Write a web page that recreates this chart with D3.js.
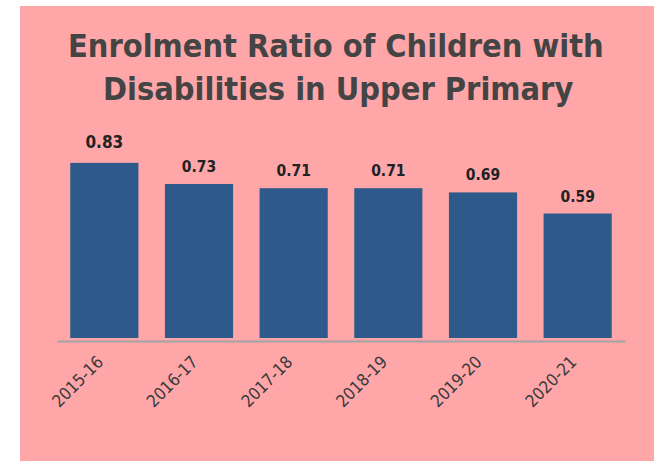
<!DOCTYPE html>
<html>
<head>
<meta charset="utf-8">
<script src="https://cdn.jsdelivr.net/npm/d3@7"></script>
<style>
html,body{margin:0;padding:0;background:#fff;}
svg{display:block;}
</style>
</head>
<body>
<svg id="chart" width="668" height="461"></svg>
<script>
const categories = ["2015-16","2016-17","2017-18","2018-19","2019-20","2020-21"];
const values = [0.83,0.73,0.71,0.71,0.69,0.59];
const valueLabels = ["0.83","0.73","0.71","0.71","0.69","0.59"];
const titleLines = ["Enrolment Ratio of Children with","Disabilities in Upper Primary"];

const svg = d3.select("#chart");
const FONT = "'DejaVu Sans Condensed','DejaVu Sans',sans-serif";

svg.append("rect").attr("x",20).attr("y",6).attr("width",634).attr("height",455).attr("fill","#FFA6A9");

const x = d3.scaleBand().domain(categories).range([57,625]).paddingInner(0.28).paddingOuter(0.14);
const y = d3.scaleLinear().domain([0,1]).range([338,127]);

// title
const t1 = svg.append("text").attr("x",68).attr("y",57).text(titleLines[0])
  .attr("font-family",FONT).attr("font-weight","bold").attr("font-size",30).attr("fill","#444444");
let w = t1.node().getComputedTextLength();
const fs = 30*536/w;
t1.attr("font-size",fs);
svg.append("text").attr("x",103).attr("y",100).text(titleLines[1])
  .attr("font-family",FONT).attr("font-weight","bold").attr("font-size",fs).attr("fill","#444444");

// bars
svg.selectAll(".bar").data(values).enter().append("rect")
  .attr("class","bar")
  .attr("x",(d,i)=>x(categories[i]))
  .attr("y",d=>y(d))
  .attr("width",x.bandwidth())
  .attr("height",d=>y(0)-y(d))
  .attr("fill","#2E5A8B");

// axis
const axis = d3.axisBottom(x).tickSize(0).tickPadding(0);
const ag = svg.append("g").attr("transform","translate(0,341)").call(axis);
ag.select(".domain").attr("stroke","#A3A3A3").attr("stroke-width",2);
ag.selectAll(".tick text")
  .attr("font-family",FONT).attr("font-size",17).attr("fill","#3a3a3a")
  .attr("text-anchor","end")
  .attr("dy",0).attr("y",0)
  .attr("transform","translate(0,22) rotate(-45)");

// value labels
svg.selectAll(".vl").data(values).enter().append("text")
  .attr("class","vl")
  .attr("x",(d,i)=>x(categories[i])+x.bandwidth()/2)
  .attr("y",(d,i)=>y(d)-(i===0?15:12))
  .attr("text-anchor","middle")
  .attr("font-family",FONT).attr("font-weight","bold")
  .attr("font-size",(d,i)=>i===0?17:15.5)
  .attr("fill","#222")
  .text((d,i)=>valueLabels[i]);
</script>
</body>
</html>
